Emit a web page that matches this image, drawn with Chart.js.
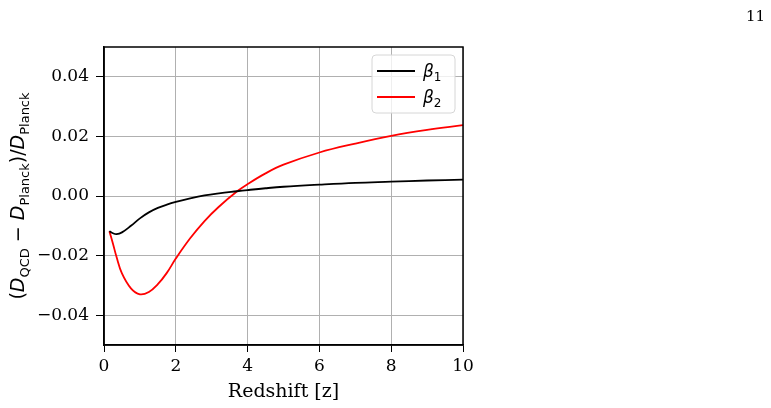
<!DOCTYPE html>
<html>
<head>
<meta charset="utf-8">
<script src="https://cdn.jsdelivr.net/npm/chart.js@4.4.1/dist/chart.umd.min.js"></script>
<style>
  html, body { margin: 0; padding: 0; background: #fff; }
  canvas { display: block; }
</style>
</head>
<body>
<canvas id="myChart" width="771" height="408"></canvas>
<script>
// redshift samples
const redshift = [0.15, 0.25, 0.35, 0.5, 0.75, 1.0, 1.25, 1.5, 1.75, 2.0, 2.4, 2.8, 3.2, 3.7, 4.0, 4.5, 5, 6, 7, 8, 9, 10];
// (D_QCD - D_Planck)/D_Planck
const beta1 = [-0.0118, -0.0125, -0.0128, -0.0122, -0.0100, -0.0075, -0.0055, -0.0040, -0.0029, -0.0020, -0.0008, 0.0002, 0.0009, 0.0016, 0.0020, 0.0026, 0.0031, 0.0038, 0.0044, 0.0048, 0.0052, 0.0055];
const beta2 = [-0.0118, -0.0160, -0.0205, -0.0260, -0.0310, -0.0330, -0.0322, -0.0296, -0.0258, -0.0210, -0.0142, -0.0084, -0.0036, 0.0015, 0.0040, 0.0076, 0.0105, 0.0146, 0.0176, 0.0202, 0.0222, 0.0238];

const xTicks = [0, 2, 4, 6, 8, 10];
const yTicks = [-0.04, -0.02, 0.00, 0.02, 0.04];

const serif = "'DejaVu Serif', serif";
const sans = "'DejaVu Sans', sans-serif";

function points(ys) {
  return redshift.map((z, i) => ({ x: z, y: ys[i] }));
}

// draw a run of [text, style] pieces, style: 'n' normal, 'i' italic, 's' subscript
function drawMath(c, pieces, x, y, size, align) {
  const fontFor = (st) => st === 'i' ? `italic ${size}px ${sans}` : st === 's' ? `${Math.round(size * 0.7)}px ${sans}` : `${size}px ${sans}`;
  let total = 0;
  pieces.forEach(p => { c.font = fontFor(p[1]); total += c.measureText(p[0]).width; });
  let cx = align === 'center' ? x - total / 2 : x;
  c.textAlign = 'left';
  c.textBaseline = 'alphabetic';
  pieces.forEach(p => {
    c.font = fontFor(p[1]);
    c.fillText(p[0], cx, p[1] === 's' ? y + size * 0.25 : y);
    cx += c.measureText(p[0]).width;
  });
}

const extras = {
  id: 'extras',
  afterDatasetsDraw(chart) {
    const c = chart.ctx;
    const a = chart.chartArea;
    c.save();
    // frame
    c.strokeStyle = '#000';
    c.lineWidth = 1.5;
    c.strokeRect(a.left, a.top, a.right - a.left, a.bottom - a.top);

    // legend
    const lx = 372, ly = 55, lw = 83, lh = 58, r = 4;
    c.beginPath();
    c.moveTo(lx + r, ly);
    c.arcTo(lx + lw, ly, lx + lw, ly + lh, r);
    c.arcTo(lx + lw, ly + lh, lx, ly + lh, r);
    c.arcTo(lx, ly + lh, lx, ly, r);
    c.arcTo(lx, ly, lx + lw, ly, r);
    c.closePath();
    c.fillStyle = 'rgba(255,255,255,0.8)';
    c.fill();
    c.strokeStyle = '#d6d6d6';
    c.lineWidth = 1;
    c.stroke();
    const rows = [['#000000', '1', 71], ['#ff0000', '2', 97]];
    rows.forEach(row => {
      c.strokeStyle = row[0];
      c.lineWidth = 1.8;
      c.beginPath();
      c.moveTo(377, row[2]);
      c.lineTo(415, row[2]);
      c.stroke();
      c.fillStyle = '#000';
      drawMath(c, [['β', 'i'], [row[1], 's']], 423, row[2] + 6, 17, 'left');
    });

    // y axis title
    c.save();
    c.translate(24, 196);
    c.rotate(-Math.PI / 2);
    c.fillStyle = '#000';
    drawMath(c, [['(', 'n'], ['D', 'i'], ['QCD', 's'], [' − ', 'n'], ['D', 'i'], ['Planck', 's'], [')/', 'n'], ['D', 'i'], ['Planck', 's']], 0, 0, 19, 'center');
    c.restore();

    // x axis title
    c.fillStyle = '#000';
    c.font = `19px ${serif}`;
    c.textAlign = 'center';
    c.textBaseline = 'alphabetic';
    c.fillText('Redshift [z]', (a.left + a.right) / 2, 397);

    // page number
    c.font = `15px ${serif}`;
    c.textAlign = 'right';
    c.fillText('11', 765, 21);
    c.restore();
  }
};

new Chart(document.getElementById('myChart'), {
  type: 'line',
  data: {
    datasets: [{
      label: 'β1',
      data: points(beta1),
      borderColor: '#000000',
      borderWidth: 1.8,
      pointRadius: 0,
      tension: 0.4,
      fill: false
    }, {
      label: 'β2',
      data: points(beta2),
      borderColor: '#ff0000',
      borderWidth: 1.8,
      pointRadius: 0,
      tension: 0.4,
      fill: false
    }]
  },
  options: {
    responsive: false,
    animation: false,
    layout: { padding: { left: 0, top: 47, right: 308, bottom: 0 } },
    plugins: { legend: { display: false }, tooltip: { enabled: false } },
    scales: {
      x: {
        type: 'linear',
        min: 0,
        max: 10,
        afterBuildTicks: s => { s.ticks = xTicks.map(v => ({ value: v })); },
        afterFit: s => { s.height = 63; },
        grid: { color: '#b0b0b0', lineWidth: 1, tickColor: '#000', tickLength: 7 },
        border: { color: '#000', width: 1.5 },
        ticks: { color: '#000', font: { family: serif, size: 17 }, padding: 4, maxRotation: 0, callback: v => String(v) }
      },
      y: {
        type: 'linear',
        min: -0.05,
        max: 0.05,
        afterBuildTicks: s => { s.ticks = yTicks.map(v => ({ value: v })); },
        afterFit: s => { s.width = 104; },
        grid: { color: '#b0b0b0', lineWidth: 1, tickColor: '#000', tickLength: 8 },
        border: { color: '#000', width: 1.5 },
        ticks: { color: '#000', font: { family: serif, size: 17 }, padding: 7, callback: v => v.toFixed(2).replace('-', '−') }
      }
    }
  },
  plugins: [extras]
});
</script>
</body>
</html>
